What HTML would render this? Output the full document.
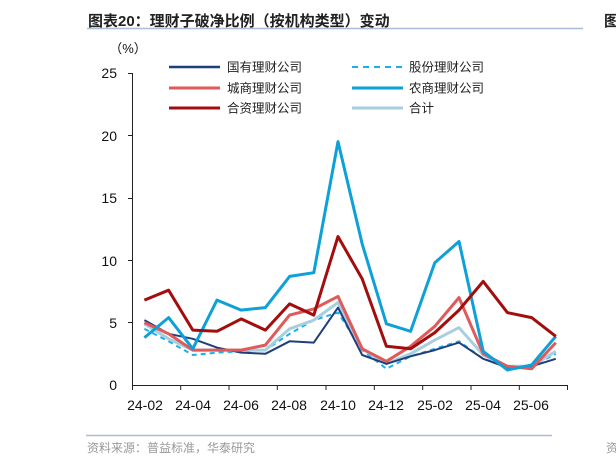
<!DOCTYPE html>
<html><head><meta charset="utf-8"><style>
body{margin:0;background:#fff;}
svg text{font-family:"Liberation Sans","Noto Sans CJK SC",sans-serif;}
</style></head><body>
<svg width="616" height="465" viewBox="0 0 616 465" xmlns="http://www.w3.org/2000/svg">
<text x="88" y="26" font-size="15" font-weight="bold" fill="#222" font-family="'Liberation Sans','Noto Sans CJK SC',sans-serif">图表20：理财子破净比例（按机构类型）变动</text>
<line x1="87" y1="28.5" x2="583" y2="28.5" stroke="#a9bdd6" stroke-width="1.5"/>
<text x="604" y="26" font-size="15" font-weight="bold" fill="#222">图</text>
<line x1="86" y1="435.5" x2="552" y2="435.5" stroke="#a9bdd6" stroke-width="1.5"/>
<text x="87" y="452" font-size="12" fill="#999">资料来源：普益标准，华泰研究</text>
<text x="606" y="452" font-size="12" fill="#999">资</text>

<text x="128" y="53" font-size="13" text-anchor="middle" fill="#111">（%）</text>
<g font-size="14" fill="#111" text-anchor="end">
<text x="117" y="78">25</text><text x="117" y="141">20</text><text x="117" y="203">15</text>
<text x="117" y="266">10</text><text x="117" y="328">5</text><text x="117" y="390">0</text>
</g>
<g stroke="#222" stroke-width="1">
<line x1="132.5" y1="73" x2="132.5" y2="385"/>
<line x1="128" y1="73.5" x2="132" y2="73.5"/><line x1="128" y1="135.5" x2="132" y2="135.5"/>
<line x1="128" y1="198.5" x2="132" y2="198.5"/><line x1="128" y1="260.5" x2="132" y2="260.5"/>
<line x1="128" y1="322.5" x2="132" y2="322.5"/>
<line x1="132" y1="385.5" x2="568" y2="385.5"/>
<line x1="132.5" y1="385" x2="132.5" y2="390"/><line x1="180.7" y1="385" x2="180.7" y2="390"/>
<line x1="229" y1="385" x2="229" y2="390"/><line x1="277.3" y1="385" x2="277.3" y2="390"/>
<line x1="326" y1="385" x2="326" y2="390"/><line x1="374.3" y1="385" x2="374.3" y2="390"/>
<line x1="422.7" y1="385" x2="422.7" y2="390"/><line x1="471" y1="385" x2="471" y2="390"/>
<line x1="519.3" y1="385" x2="519.3" y2="390"/><line x1="567.5" y1="385" x2="567.5" y2="390"/>
</g>
<g font-size="14" fill="#111" text-anchor="middle">
<text x="145" y="410">24-02</text><text x="193" y="410">24-04</text><text x="241" y="410">24-06</text>
<text x="289" y="410">24-08</text><text x="338" y="410">24-10</text><text x="386" y="410">24-12</text>
<text x="435" y="410">25-02</text><text x="483" y="410">25-04</text><text x="531" y="410">25-06</text>
</g>

<g font-size="12.5" fill="#222" font-family="'Noto Sans CJK SC',sans-serif">
<line x1="169" y1="67" x2="220" y2="67" stroke="#1f3f7a" stroke-width="2.5"/><text x="227" y="71.5">国有理财公司</text>
<line x1="169" y1="88" x2="220" y2="88" stroke="#e05a5a" stroke-width="3"/><text x="227" y="92.5">城商理财公司</text>
<line x1="169" y1="108" x2="220" y2="108" stroke="#a30d0d" stroke-width="3"/><text x="227" y="112.5">合资理财公司</text>
<line x1="352" y1="67" x2="403" y2="67" stroke="#1ab0f0" stroke-width="2" stroke-dasharray="6,5"/><text x="409" y="71.5">股份理财公司</text>
<line x1="352" y1="88" x2="403" y2="88" stroke="#0ea0d8" stroke-width="3"/><text x="409" y="92.5">农商理财公司</text>
<line x1="352" y1="108" x2="403" y2="108" stroke="#a8cfe0" stroke-width="3"/><text x="409" y="112.5">合计</text>
</g>
<g id="series" fill="none" stroke-linejoin="round"></g>
</svg>
<script>
var S=[
["#1ab0f0",2,"5,4",[4.5,3.5,2.4,2.6,2.7,2.8,4.1,5.2,5.8,2.8,1.3,2.3,2.9,3.5,2.1,1.5,1.5,2.5]],
["#a8cfe0",3,"",[4.9,3.7,2.8,2.8,2.8,2.8,4.5,5.2,6.6,2.9,1.7,2.5,3.6,4.6,2.4,1.5,1.5,2.7]],
["#1f3f7a",2,"",[5.2,4.1,3.7,3.0,2.6,2.5,3.5,3.4,6.2,2.4,1.7,2.3,2.8,3.4,2.1,1.4,1.5,2.1]],
["#e05a5a",3,"",[5.0,4.1,2.8,2.8,2.8,3.2,5.6,6.1,7.1,2.9,1.9,3.1,4.7,7.0,2.5,1.5,1.3,3.4]],
["#0ea0d8",3,"",[3.8,5.4,2.9,6.8,6.0,6.2,8.7,9.0,19.5,11.3,4.9,4.3,9.8,11.5,2.7,1.2,1.6,3.9]],
["#a30d0d",3,"",[6.8,7.6,4.4,4.3,5.3,4.4,6.5,5.6,11.9,8.5,3.1,2.9,4.2,6.0,8.3,5.8,5.4,3.9]]];
var g=document.getElementById("series"),h="";
S.forEach(function(s){var p=s[3].map(function(v,i){return (144.4+24.2*i).toFixed(1)+","+(385-v*12.48).toFixed(1)}).join(" ");
h+='<polyline points="'+p+'" stroke="'+s[0]+'" stroke-width="'+s[1]+'"'+(s[2]?' stroke-dasharray="'+s[2]+'"':'')+'/>';});
g.innerHTML=h;
</script>
</body></html>
